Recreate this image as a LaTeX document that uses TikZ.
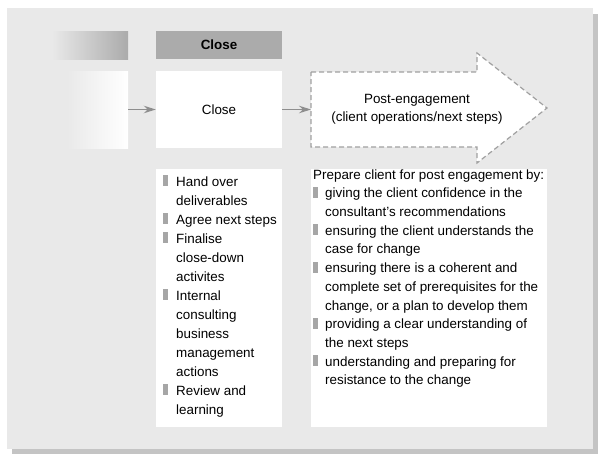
\documentclass[tikz,border=0pt]{standalone}
\usepackage{fontspec}
\setmainfont{Liberation Sans}
\usetikzlibrary{arrows.meta}
\definecolor{panel}{HTML}{E9E9E9}
\definecolor{shadowc}{HTML}{C4C4C4}
\definecolor{headc}{HTML}{ABABAB}
\definecolor{linec}{HTML}{8E8E8E}
\definecolor{dashc}{HTML}{A0A0A0}
\definecolor{bulc}{HTML}{A6A6A6}
\newcommand\blt[2]{\fill[bulc] (#1,#2) rectangle ++(4.5,-10.7);}
\begin{document}
\begin{tikzpicture}[x=1pt,y=-1pt,
  boxshape/.style={draw=none, inner sep=0pt, minimum width=#1},
  conn/.style={draw=linec, line width=1.6pt, -{Stealth[length=12pt,width=7.5pt,inset=4pt]}},
  ltxt/.style={inner sep=0pt, anchor=north west, align=left, font=\fontsize{13.4}{19}\selectfont},
  rtxt/.style={inner sep=0pt, anchor=north west, align=left, font=\fontsize{13.4}{18.7}\selectfont},
  ]
\useasboundingbox (0,0) rectangle (606,461);
\fill[shadowc] (12,14) rectangle (598,454);
\fill[panel] (7,8) rectangle (593,449);

% header row
\node[boxshape=76pt, minimum height=28pt, left color=panel, right color=headc] (hprev) at (90,45) {};
\node[boxshape=126pt, minimum height=28pt, fill=headc, font=\fontsize{13.4}{16}\selectfont\bfseries] (hclose) at (219,45) {Close};

% main row
\node[boxshape=61pt, minimum height=77pt, left color=panel, right color=white] (prev) at (97.5,109.5) {};
\node[boxshape=126pt, minimum height=77pt, fill=white, font=\fontsize{13.4}{16}\selectfont] (close) at (219,109.5) {Close};

\draw[draw=dashc, line width=1.2pt, dash pattern=on 5pt off 3pt, fill=white]
  (311,72) -- (477,72) -- (477,53) -- (547,108) -- (477,163) -- (477,147) -- (311,147) -- cycle;
\node[inner sep=0pt, align=center, font=\fontsize{13.4}{18}\selectfont] (post) at (417,109) {Post-engagement\\(client operations/next steps)};
\coordinate (postin) at (311,109.5);

\draw[conn] (prev.east) -- (close.west);
\draw[conn] (close.east) -- (postin);

% lower boxes
\node[boxshape=126pt, minimum height=258pt, fill=white] (lbox) at (219,298) {};
\node[boxshape=236pt, minimum height=258pt, fill=white] (rbox) at (429,298) {};

% left list
\blt{163}{186}\node[ltxt] (l1) at (176,172.7) {\strut Hand over\\deliverables};
\blt{163}{224}\node[ltxt] (l2) at (176,210.7) {\strut Agree next steps};
\blt{163}{243}\node[ltxt] (l3) at (176,229.7) {\strut Finalise\\close-down\\activites};
\blt{163}{300}\node[ltxt] (l4) at (176,286.7) {\strut Internal\\consulting\\business\\management\\actions};
\blt{163}{395}\node[ltxt] (l5) at (176,381.7) {\strut Review and\\learning};

% right list
\node[rtxt] (r0) at (313,165.9) {\strut Prepare client for post engagement by:};
\blt{313}{197.7}\node[rtxt] (r1) at (325,184.6) {\strut giving the client confidence in the\\consultant’s recommendations};
\blt{313}{235.1}\node[rtxt] (r2) at (325,222.0) {\strut ensuring the client understands the\\case for change};
\blt{313}{272.5}\node[rtxt] (r3) at (325,259.4) {\strut ensuring there is a coherent and\\complete set of prerequisites for the\\change, or a plan to develop them};
\blt{313}{328.6}\node[rtxt] (r4) at (325,315.5) {\strut providing a clear understanding of\\the next steps};
\blt{313}{366}\node[rtxt] (r5) at (325,352.9) {\strut understanding and preparing for\\resistance to the change};
\end{tikzpicture}
\end{document}
